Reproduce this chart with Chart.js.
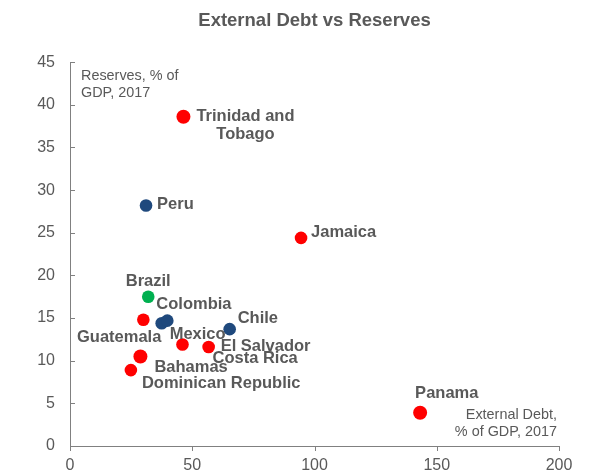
<!DOCTYPE html>
<html>
<head>
<meta charset="utf-8">
<script src="https://cdn.jsdelivr.net/npm/chart.js@4"></script>
<style>
  html, body { margin: 0; padding: 0; background: #fff; }
</style>
</head>
<body>
<canvas id="debtChart" width="589" height="473"></canvas>
<script>
// data
const countries = ['Trinidad and Tobago', 'Peru', 'Jamaica', 'Panama', 'Brazil', 'Guatemala',
  'Mexico', 'Colombia', 'Chile', 'Costa Rica', 'El Salvador', 'Bahamas', 'Dominican Republic'];
const externalDebt = [46.4, 31.1, 94.5, 143.2, 32.0, 30.0, 37.5, 39.8, 65.3, 46.0, 56.7, 28.8, 24.9];
const reserves = [38.6, 28.2, 24.4, 3.9, 17.5, 14.8, 14.4, 14.7, 13.7, 11.9, 11.6, 10.5, 8.9];
const groups = ['red', 'blue', 'red', 'red', 'green', 'red', 'blue', 'blue', 'blue', 'red', 'red', 'red', 'red'];
const xTicks = [0, 50, 100, 150, 200];
const yTicks = [0, 5, 10, 15, 20, 25, 30, 35, 40, 45];

const groupColors = { red: '#FF0000', blue: '#1F497D', green: '#00B050' };
const bigDots = ['Trinidad and Tobago', 'Panama', 'Bahamas'];
const textColor = '#595959';
const fontName = "'Liberation Sans', Arial, sans-serif";

// where each name sits relative to its dot (px), and alignment
const labelPos = {
  'Trinidad and Tobago': { dx: 62, dy: 0, align: 'center', lines: ['Trinidad and', 'Tobago'] },
  'Peru': { dx: 11, dy: -1, align: 'left' },
  'Jamaica': { dx: 10, dy: -5, align: 'left' },
  'Panama': { dx: -5, dy: -19, align: 'left' },
  'Brazil': { dx: 0, dy: -15, align: 'center' },
  'Guatemala': { dx: 18, dy: 18, align: 'right' },
  'Mexico': { dx: 8, dy: 11, align: 'left' },
  'Colombia': { dx: -11, dy: -16, align: 'left' },
  'Chile': { dx: 8, dy: -11, align: 'left' },
  'Costa Rica': { dx: 30, dy: 14, align: 'left' },
  'El Salvador': { dx: 12, dy: -1, align: 'left' },
  'Bahamas': { dx: 14, dy: 11, align: 'left' },
  'Dominican Republic': { dx: 11, dy: 13, align: 'left' }
};

function buildDataset(group) {
  const pts = [];
  countries.forEach((c, i) => {
    if (groups[i] === group) pts.push({ x: externalDebt[i], y: reserves[i], name: c });
  });
  return {
    label: group,
    data: pts,
    backgroundColor: groupColors[group],
    borderColor: groupColors[group],
    pointRadius: pts.map(p => bigDots.includes(p.name) ? 7 : 6.3),
    pointHoverRadius: pts.map(p => bigDots.includes(p.name) ? 7 : 6.3),
    borderWidth: 0
  };
}

const pointNames = {
  id: 'pointNames',
  afterDatasetsDraw(chart) {
    const ctx = chart.ctx;
    ctx.save();
    ctx.fillStyle = textColor;
    ctx.font = 'bold 16.5px ' + fontName;
    ctx.textBaseline = 'middle';
    chart.data.datasets.forEach((ds, di) => {
      const meta = chart.getDatasetMeta(di);
      meta.data.forEach((el, j) => {
        const name = ds.data[j].name;
        const lp = labelPos[name];
        ctx.textAlign = lp.align;
        const lines = lp.lines || [name];
        lines.forEach((t, k) => {
          ctx.fillText(t, el.x + lp.dx, el.y + lp.dy + k * 18);
        });
      });
    });
    ctx.restore();
  }
};

const axisExtras = {
  id: 'axisExtras',
  afterDraw(chart) {
    const ctx = chart.ctx;
    const area = chart.chartArea;
    const xs = chart.scales.x, ys = chart.scales.y;
    ctx.save();
    ctx.strokeStyle = '#808080';
    ctx.lineWidth = 1;
    ctx.beginPath();
    yTicks.forEach(v => {
      const py = Math.round(ys.getPixelForValue(v)) + 0.5;
      ctx.moveTo(area.left, py);
      ctx.lineTo(area.left + 5, py);
    });
    xTicks.forEach(v => {
      const px = Math.round(xs.getPixelForValue(v)) + 0.5;
      ctx.moveTo(px, area.bottom);
      ctx.lineTo(px, area.bottom + 5);
    });
    ctx.stroke();

    // axis captions
    ctx.fillStyle = textColor;
    ctx.font = '14.4px ' + fontName;
    ctx.textBaseline = 'middle';
    ctx.textAlign = 'left';
    ctx.fillText('Reserves, % of', area.left + 11, 76);
    ctx.fillText('GDP, 2017', area.left + 11, 93);
    ctx.textAlign = 'right';
    ctx.fillText('External Debt,', area.right - 2, 415);
    ctx.fillText('% of GDP, 2017', area.right - 2, 432);
    ctx.restore();
  }
};

new Chart(document.getElementById('debtChart'), {
  type: 'scatter',
  data: { datasets: ['red', 'blue', 'green'].map(buildDataset) },
  options: {
    responsive: false,
    animation: false,
    layout: { padding: { left: 0, right: 30, top: 0, bottom: 0 } },
    plugins: {
      legend: { display: false },
      tooltip: { enabled: false },
      title: {
        display: true,
        text: 'External Debt vs Reserves',
        color: textColor,
        fullSize: false,
        font: { family: fontName, size: 18.5, weight: 'bold', lineHeight: 1.2 },
        padding: { top: 10, bottom: 30 }
      }
    },
    scales: {
      x: {
        type: 'linear',
        min: xTicks[0],
        max: xTicks[xTicks.length - 1],
        grid: { display: false, drawTicks: false },
        border: { display: true, color: '#808080', width: 1 },
        ticks: {
          stepSize: xTicks[1] - xTicks[0],
          color: textColor,
          padding: 10,
          font: { family: fontName, size: 16 }
        },
        afterFit(scale) { scale.height = 27; }
      },
      y: {
        type: 'linear',
        min: yTicks[0],
        max: yTicks[yTicks.length - 1],
        grid: { display: false, drawTicks: false },
        border: { display: true, color: '#808080', width: 1 },
        ticks: {
          stepSize: yTicks[1] - yTicks[0],
          color: textColor,
          padding: 15,
          font: { family: fontName, size: 16 }
        },
        afterFit(scale) { scale.width = 70; }
      }
    }
  },
  plugins: [pointNames, axisExtras]
});
</script>
</body>
</html>
